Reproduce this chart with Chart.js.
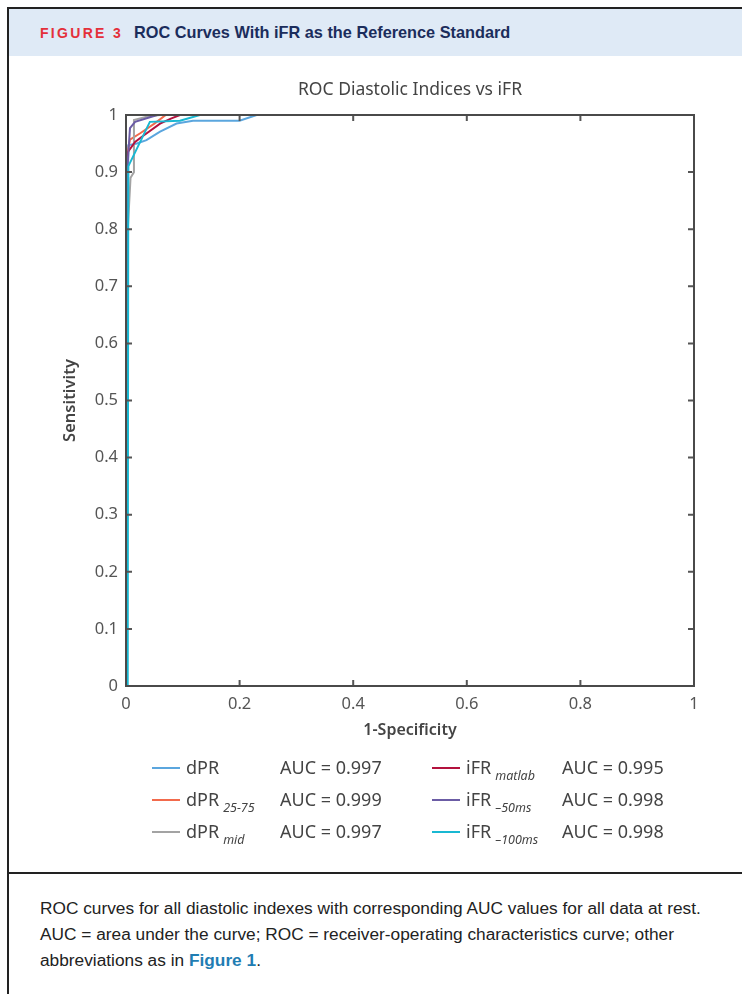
<!DOCTYPE html>
<html>
<head>
<meta charset="utf-8">
<script src="https://cdn.jsdelivr.net/npm/chart.js@4.4.0/dist/chart.umd.min.js"></script>
<style>
  body { margin: 0; background: #fff; width: 742px; height: 994px; overflow: hidden; position: relative; font-family: "Noto Sans", sans-serif; }
  #border { position: absolute; left: 7px; top: 7px; width: 740px; height: 990px; border-left: 2px solid #222; border-top: 2px solid #222; }
  #head { position: absolute; left: 9px; top: 9px; width: 733px; height: 47px; background: #dfeaf6; }
  #head span { position: absolute; font-family: "Liberation Sans", sans-serif; font-weight: bold; }
  #fig { left: 31px; top: 16px; color: #e4303a; font-size: 14px; letter-spacing: 2.3px; }
  #htitle { left: 125px; top: 14px; color: #1b2d5c; font-size: 16.3px; }
  #cv { position: absolute; left: 0; top: 60px; }
  .leg { position: absolute; height: 24px; font-size: 18px; color: #444; white-space: nowrap; }
  .leg i.sw { position: absolute; top: 12px; width: 28px; height: 2px; }
  .leg span.lb { position: absolute; left: 34px; top: 0; }
  .leg sub { font-size: 12.5px; font-style: italic; vertical-align: -6px; margin-left: 4px; }
  .auc { position: absolute; font-size: 18px; color: #444; white-space: nowrap; }
  #sep { position: absolute; left: 9px; top: 872px; width: 733px; height: 2px; background: #222; }
  #cap { position: absolute; left: 40px; top: 895px; width: 700px; font-family: "Liberation Sans", sans-serif; font-size: 17.3px; line-height: 26px; color: #222; white-space: nowrap; }
  #cap b { color: #1f7db3; }
</style>
</head>
<body>
<div id="border"></div>
<div id="head"><span id="fig">FIGURE 3</span><span id="htitle">ROC Curves With iFR as the Reference Standard</span></div>
<canvas id="cv" width="742" height="700"></canvas>
<div id="legend"></div>
<div id="sep"></div>
<div id="cap">ROC curves for all diastolic indexes with corresponding AUC values for all data at rest.<br>AUC = area under the curve; ROC = receiver-operating characteristics curve; other<br>abbreviations as in <b>Figure 1</b>.</div>
<script>
// ROC points (1-specificity, sensitivity)
var dprX     = [0, 0.004, 0.019, 0.036, 0.06, 0.089, 0.118, 0.2, 0.23, 1];
var dprY     = [0, 0.947, 0.95, 0.956, 0.971, 0.985, 0.99, 0.99, 1, 1];
var dpr2575X = [0, 0.002, 0.007, 0.025, 0.05, 0.07, 1];
var dpr2575Y = [0, 0.93, 0.957, 0.968, 0.985, 1, 1];
var dprMidX  = [0, 0.002, 0.008, 0.014, 0.014, 0.04, 0.06, 1];
var dprMidY  = [0, 0.78, 0.89, 0.9, 0.991, 0.998, 1, 1];
var matlabX  = [0, 0, 0.004, 0.016, 0.028, 0.06, 0.08, 0.095, 1];
var matlabY  = [0, 0.924, 0.936, 0.953, 0.962, 0.985, 0.994, 1, 1];
var ifr50X   = [0, 0.002, 0.007, 0.016, 0.042, 0.055, 1];
var ifr50Y   = [0, 0.9, 0.977, 0.988, 0.996, 1, 1];
var ifr100X  = [0.003, 0.004, 0.042, 0.095, 0.13, 1];
var ifr100Y  = [0, 0.91, 0.988, 0.99, 1, 1];

var names  = ['dPR', 'dPR', 'dPR', 'iFR', 'iFR', 'iFR'];
var subs   = ['', '25-75', 'mid', 'matlab', '\u201350ms', '\u2013100ms'];
var aucs   = ['0.997', '0.999', '0.997', '0.995', '0.998', '0.998'];
var colors = ['#5ba6de', '#f26a4c', '#a3a3a3', '#b3123e', '#6b5ca5', '#19b8d2'];
var xs = [dprX, dpr2575X, dprMidX, matlabX, ifr50X, ifr100X];
var ys = [dprY, dpr2575Y, dprMidY, matlabY, ifr50Y, ifr100Y];
var drawOrder = [5, 4, 3, 2, 1, 0];

var xTicks = [0, 0.2, 0.4, 0.6, 0.8, 1];
var yTicks = [0, 0.1, 0.2, 0.3, 0.4, 0.5, 0.6, 0.7, 0.8, 0.9, 1];

var datasets = [];
for (var i = 0; i < xs.length; i++) {
  var pts = [];
  for (var j = 0; j < xs[i].length; j++) pts.push({x: xs[i][j], y: ys[i][j]});
  datasets.push({
    label: names[i] + (subs[i] ? ' ' + subs[i] : ''),
    data: pts,
    borderColor: colors[i],
    borderWidth: 2,
    pointRadius: 0,
    tension: 0,
    fill: false,
    order: drawOrder[i],
    clip: 4
  });
}

// box with inward ticks, like matlab
var boxPlugin = {
  id: 'box',
  afterDatasetsDraw: function (chart) {
    var c = chart.ctx, a = chart.chartArea;
    var sx = chart.scales.x, sy = chart.scales.y;
    c.save();
    c.strokeStyle = '#555';
    c.lineWidth = 2;
    c.beginPath();
    xTicks.forEach(function (v) {
      if (v === 0 || v === 1) return;
      var p = sx.getPixelForValue(v);
      c.moveTo(p, a.bottom); c.lineTo(p, a.bottom - 6);
      c.moveTo(p, a.top); c.lineTo(p, a.top + 6);
    });
    yTicks.forEach(function (v) {
      if (v === 0 || v === 1) return;
      var p = sy.getPixelForValue(v);
      c.moveTo(a.left, p); c.lineTo(a.left + 6, p);
      c.moveTo(a.right, p); c.lineTo(a.right - 6, p);
    });
    c.stroke();
    c.strokeStyle = '#4a4a4a';
    c.strokeRect(a.left, a.top, a.right - a.left, a.bottom - a.top);
    c.restore();
  }
};

function fmt(v) { return String(Number(v.toFixed(1))); }

new Chart(document.getElementById('cv').getContext('2d'), {
  type: 'line',
  data: { datasets: datasets },
  plugins: [boxPlugin],
  options: {
    responsive: false,
    animation: false,
    layout: { padding: { top: 0, right: 48, bottom: 0, left: 0 } },
    plugins: {
      legend: { display: false },
      tooltip: { enabled: false },
      title: {
        display: true,
        fullSize: false,
        text: 'ROC Diastolic Indices vs iFR',
        color: '#444',
        font: { family: 'Noto Sans', size: 17.5, weight: 'normal' },
        padding: { top: 20, bottom: 14 }
      }
    },
    scales: {
      x: {
        type: 'linear', min: 0, max: 1,
        afterFit: function (s) { s.height = 74; },
        afterBuildTicks: function (s) { s.ticks = xTicks.map(function (v) { return {value: v}; }); },
        grid: { display: false },
        border: { display: false },
        ticks: { color: '#555', padding: 0, font: { family: 'Noto Sans', size: 16.5 }, callback: fmt },
        title: { display: true, text: '1-Specificity', color: '#444', padding: { bottom: 20.4 },
                 font: { family: 'Noto Sans', size: 16, weight: '600' } }
      },
      y: {
        type: 'linear', min: 0, max: 1,
        afterFit: function (s) { s.width = 126; },
        afterBuildTicks: function (s) { s.ticks = yTicks.map(function (v) { return {value: v}; }); },
        grid: { display: false },
        border: { display: false },
        ticks: { color: '#555', padding: 0, font: { family: 'Noto Sans', size: 16.5 }, callback: fmt },
        title: { display: true, text: 'Sensitivity', color: '#444', padding: { top: 60 },
                 font: { family: 'Noto Sans', size: 16.5, weight: '600' } }
      }
    }
  }
});

// legend in two columns below the plot
var leg = document.getElementById('legend');
var colX = [152, 432], aucX = [280, 562], rowY = [755, 787, 819];
for (var k = 0; k < names.length; k++) {
  var col = k < 3 ? 0 : 1, row = k % 3;
  var d = document.createElement('div');
  d.className = 'leg';
  d.style.left = colX[col] + 'px';
  d.style.top = rowY[row] + 'px';
  d.innerHTML = '<i class="sw" style="background:' + colors[k] + '"></i><span class="lb">' + names[k] +
    (subs[k] ? '<sub>' + subs[k] + '</sub>' : '') + '</span>';
  leg.appendChild(d);
  var a = document.createElement('div');
  a.className = 'auc';
  a.style.left = aucX[col] + 'px';
  a.style.top = rowY[row] + 'px';
  a.textContent = 'AUC = ' + aucs[k];
  leg.appendChild(a);
}
</script>
</body>
</html>
